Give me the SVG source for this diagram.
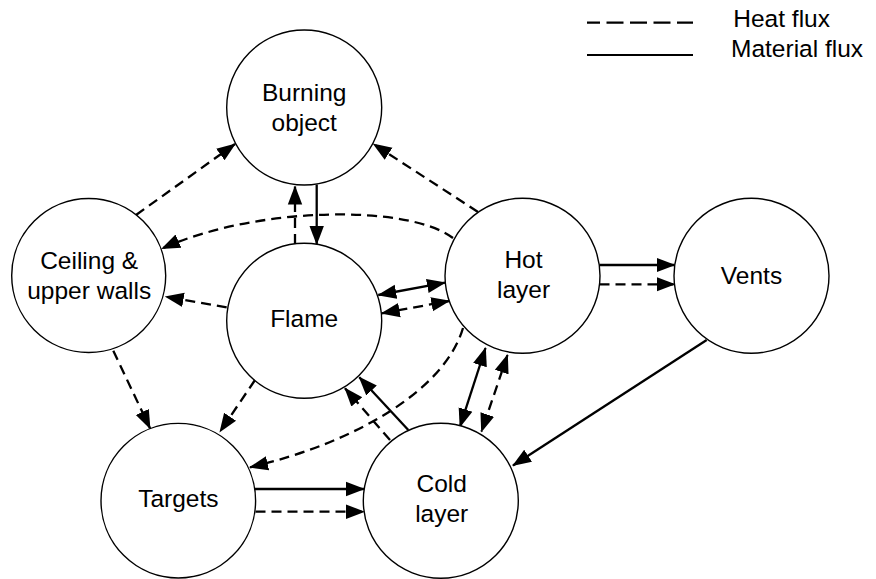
<svg xmlns="http://www.w3.org/2000/svg" width="876" height="579" viewBox="0 0 876 579">
<style>
.node circle{fill:#fff;stroke:#000;stroke-width:1.4}
.node text,.legend text{font-family:"Liberation Sans",Arial,sans-serif;font-size:24.5px;fill:#000}
.node text{text-anchor:middle}
.c{fill:none;stroke:#000;stroke-width:2.3}
.d{stroke-dasharray:10 6}
.e{marker-end:url(#ah)}
.b{marker-start:url(#ah);marker-end:url(#ah)}
</style>
<defs>
<marker id="ah" markerUnits="userSpaceOnUse" markerWidth="19" markerHeight="16" viewBox="0 0 19 16" refX="18" refY="8" orient="auto-start-reverse">
<path d="M0,0.8 L19,8 L0,15.2 z" fill="#000"/>
</marker>
</defs>
<rect width="876" height="579" fill="#fff"/>
<g id="connectors">
<path class="c d e" d="M136,215 L235,144"/>
<path class="c d e" d="M478,212 L373.5,144"/>
<path class="c d e" d="M295,244 L295,186.5"/>
<path class="c e" d="M316.7,184.5 L316.7,244"/>
<path class="c d e" d="M453,238 C410,205 260,205 162,248.5"/>
<path class="c d e" d="M226.7,307.3 L165.7,296.7"/>
<path class="c b" d="M378.3,295 L445,282.7"/>
<path class="c d b" d="M381.7,313.3 L449.3,301"/>
<path class="c e" d="M599.5,265 L674.5,265"/>
<path class="c d e" d="M599.5,284.3 L674.5,284.3"/>
<path class="c e" d="M706.7,340 L513,465.5"/>
<path class="c d e" d="M113.3,350.7 L150,428.3"/>
<path class="c d e" d="M255,380 L220,431.7"/>
<path class="c d e" d="M463,328 C445,390 355,443 250,467.3"/>
<path class="c e" d="M255,489 L364,489"/>
<path class="c d e" d="M255.5,511.7 L364,511.7"/>
<path class="c e" d="M408.3,430 L359.3,377.3"/>
<path class="c d e" d="M390,440 L345,388.3"/>
<path class="c b" d="M485.5,348 L460,426.7"/>
<path class="c d b" d="M507.5,355 L481.5,431.5"/>
</g>
<g id="burning-object" class="node">
<circle cx="304.2" cy="107.5" r="77.5"/>
<text x="304.2" y="101">Burning</text>
<text x="304.2" y="130.5">object</text>
</g>
<g id="ceiling" class="node">
<circle cx="88.7" cy="275.5" r="77"/>
<text x="89.2" y="269">Ceiling &amp;</text>
<text x="89.2" y="299">upper walls</text>
</g>
<g id="flame" class="node">
<circle cx="304.2" cy="320.8" r="77.5"/>
<text x="304.2" y="327">Flame</text>
</g>
<g id="hot-layer" class="node">
<circle cx="522.5" cy="275.8" r="77.5"/>
<text x="523.5" y="268">Hot</text>
<text x="523.5" y="298">layer</text>
</g>
<g id="vents" class="node">
<circle cx="751.5" cy="275.8" r="77.5"/>
<text x="751.5" y="284">Vents</text>
</g>
<g id="targets" class="node">
<circle cx="178.3" cy="500.7" r="77.3"/>
<text x="178.3" y="506.7">Targets</text>
</g>
<g id="cold-layer" class="node">
<circle cx="440.8" cy="500.8" r="77.5"/>
<text x="441.7" y="491.7">Cold</text>
<text x="441.7" y="521.7">layer</text>
</g>
<g id="legend" class="legend">
<line x1="587" y1="22.7" x2="693" y2="22.7" stroke="#000" stroke-width="2.2" stroke-dasharray="17 6.5" stroke-dashoffset="4"/>
<line x1="587" y1="55" x2="693" y2="55" stroke="#000" stroke-width="2.2"/>
<text x="733.3" y="27.3">Heat flux</text>
<text x="731" y="57">Material flux</text>
</g>
</svg>
